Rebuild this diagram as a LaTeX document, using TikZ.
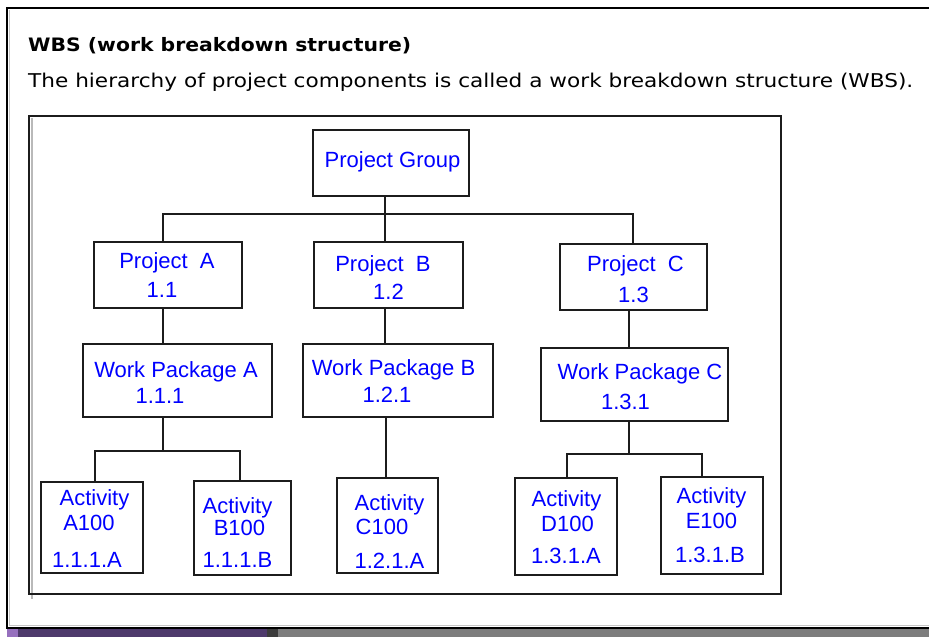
\documentclass[tikz,border=0pt]{standalone}
\usepackage{graphicx}
\usepackage{fontspec}
\setmainfont{Liberation Sans}
\newfontfamily\djv{DejaVu Sans}
\usetikzlibrary{calc}
\definecolor{boxblue}{RGB}{0,0,255}
\definecolor{linecol}{RGB}{28,28,28}
\definecolor{stripgray}{RGB}{125,125,125}
\definecolor{strippurple}{RGB}{78,58,108}
\definecolor{striplight}{RGB}{150,112,190}
\definecolor{stripdark}{RGB}{60,60,60}
\begin{document}
\begin{tikzpicture}[x=1pt,y=-1pt,
  wbox/.style={draw=linecol, line width=2pt, fill=white, rectangle, inner sep=0, outer sep=0},
  btext/.style={font=\fontsize{22}{26}\selectfont, text=boxblue, inner sep=0, anchor=base},
  conn/.style={draw=linecol, line width=2pt},
  frame/.style={draw=linecol, line width=2pt}]
\fill[white] (0,0) rectangle (929,637);
\useasboundingbox (0,0) rectangle (929,637);
% outer window frame
\draw[frame, black] (940,8) -- (7,8) -- (7,628) -- (940,628);
\draw[gray!45, line width=1pt] (9.5,10) -- (9.5,625.5) -- (940,625.5);
% bottom strip
\fill[stripgray] (7,629) rectangle (929,637);
\fill[strippurple] (7,629) rectangle (267,637);
\fill[striplight] (7,629) rectangle (18,637);
\fill[stripdark] (267,629) rectangle (278,637);
% title and subtitle
\node[anchor=base west, inner sep=0] (title) at (28,51)
  {\resizebox{383pt}{\height}{\djv\bfseries\fontsize{18.5}{22}\selectfont WBS (work breakdown structure)}};
\node[anchor=base west, inner sep=0] (subtitle) at (28,87)
  {\resizebox{885pt}{\height}{\djv\fontsize{19}{22}\selectfont The hierarchy of project components is called a work breakdown structure (WBS).}};
% inner frame
\draw[gray!55, line width=2pt] (32,118) -- (32,599);
\draw[frame] (29,116) rectangle (781,594);
% boxes
\node[wbox, minimum width=156pt, minimum height=66pt] (pg) at (391,163) {};
\node[wbox, minimum width=148pt, minimum height=66pt] (pa) at (168,275) {};
\node[wbox, minimum width=149pt, minimum height=66pt] (pb) at (388.5,275) {};
\node[wbox, minimum width=147pt, minimum height=66pt] (pc) at (633.5,277) {};
\node[wbox, minimum width=189pt, minimum height=73pt] (wa) at (177.5,380.5) {};
\node[wbox, minimum width=190pt, minimum height=73pt] (wb) at (398,380.5) {};
\node[wbox, minimum width=187pt, minimum height=73pt] (wc) at (634.5,384.5) {};
\node[wbox, minimum width=102pt, minimum height=91pt] (a1) at (92,527.5) {};
\node[wbox, minimum width=97pt, minimum height=94pt] (a2) at (242.5,528) {};
\node[wbox, minimum width=101pt, minimum height=95pt] (a3) at (387.5,525.5) {};
\node[wbox, minimum width=102pt, minimum height=97pt] (a4) at (566,526.5) {};
\node[wbox, minimum width=102pt, minimum height=97pt] (a5) at (712,525.5) {};
% connectors
\coordinate (top) at (385,214);
\coordinate (xA) at (163,214);
\coordinate (xC) at (633,214);
\coordinate (xWC) at (629,454);
\coordinate (jA) at (163,451);
\coordinate (jA1) at (95,451);
\coordinate (jA2) at (240,451);
\coordinate (xB) at (386,451);
\coordinate (jC1) at (567,454);
\coordinate (jC2) at (702,454);
\draw[conn] (pg.south -| top) -- (top);
\draw[conn] (pa.north -| xA) -- (xA) -- (xC) -- (pc.north -| xC);
\draw[conn] (top) -- (pb.north -| top);
\draw[conn] (pa.south -| xA) -- (wa.north -| xA);
\draw[conn] (pb.south -| top) -- (wb.north -| top);
\draw[conn] (pc.south -| xWC) -- (wc.north -| xWC);
\draw[conn] (wa.south -| jA) -- (jA);
\draw[conn] (a1.north -| jA1) -- (jA1) -- (jA2) -- (a2.north -| jA2);
\draw[conn] (wb.south -| xB) -- (a3.north -| xB);
\draw[conn] (wc.south -| xWC) -- (xWC);
\draw[conn] (a4.north -| jC1) -- (jC1) -- (jC2) -- (a5.north -| jC2);
% texts
\node[btext] (tpg) at (392.5,167) {Project Group};
\node[btext] (tpa1) at (167,268) {Project\ \ A};
\node[btext] (tpa2) at (162,297) {1.1};
\node[btext] (tpb1) at (383,271) {Project\ \ B};
\node[btext] (tpb2) at (388.5,299) {1.2};
\node[btext] (tpc1) at (635.5,271) {Project\ \ C};
\node[btext] (tpc2) at (633.5,302) {1.3};
\node[btext] (twa1) at (176,377) {Work Package A};
\node[btext] (twa2) at (160,403) {1.1.1};
\node[btext] (twb1) at (393.5,375) {Work Package B};
\node[btext] (twb2) at (387,402) {1.2.1};
\node[btext] (twc1) at (640,379) {Work Package C};
\node[btext] (twc2) at (625.5,409) {1.3.1};
\node[btext] (ta11) at (94.5,505) {Activity};
\node[btext] (ta12) at (89,530) {A100};
\node[btext] (ta13) at (87,567) {1.1.1.A};
\node[btext] (ta21) at (237.5,513) {Activity};
\node[btext] (ta22) at (239.5,535) {B100};
\node[btext] (ta23) at (237.5,567) {1.1.1.B};
\node[btext] (ta31) at (389.5,510) {Activity};
\node[btext] (ta32) at (382,534) {C100};
\node[btext] (ta33) at (389.5,568) {1.2.1.A};
\node[btext] (ta41) at (566.5,506) {Activity};
\node[btext] (ta42) at (567.5,531) {D100};
\node[btext] (ta43) at (566,563) {1.3.1.A};
\node[btext] (ta51) at (711.5,503) {Activity};
\node[btext] (ta52) at (711.5,528) {E100};
\node[btext] (ta53) at (710,562) {1.3.1.B};
\end{tikzpicture}
\end{document}
